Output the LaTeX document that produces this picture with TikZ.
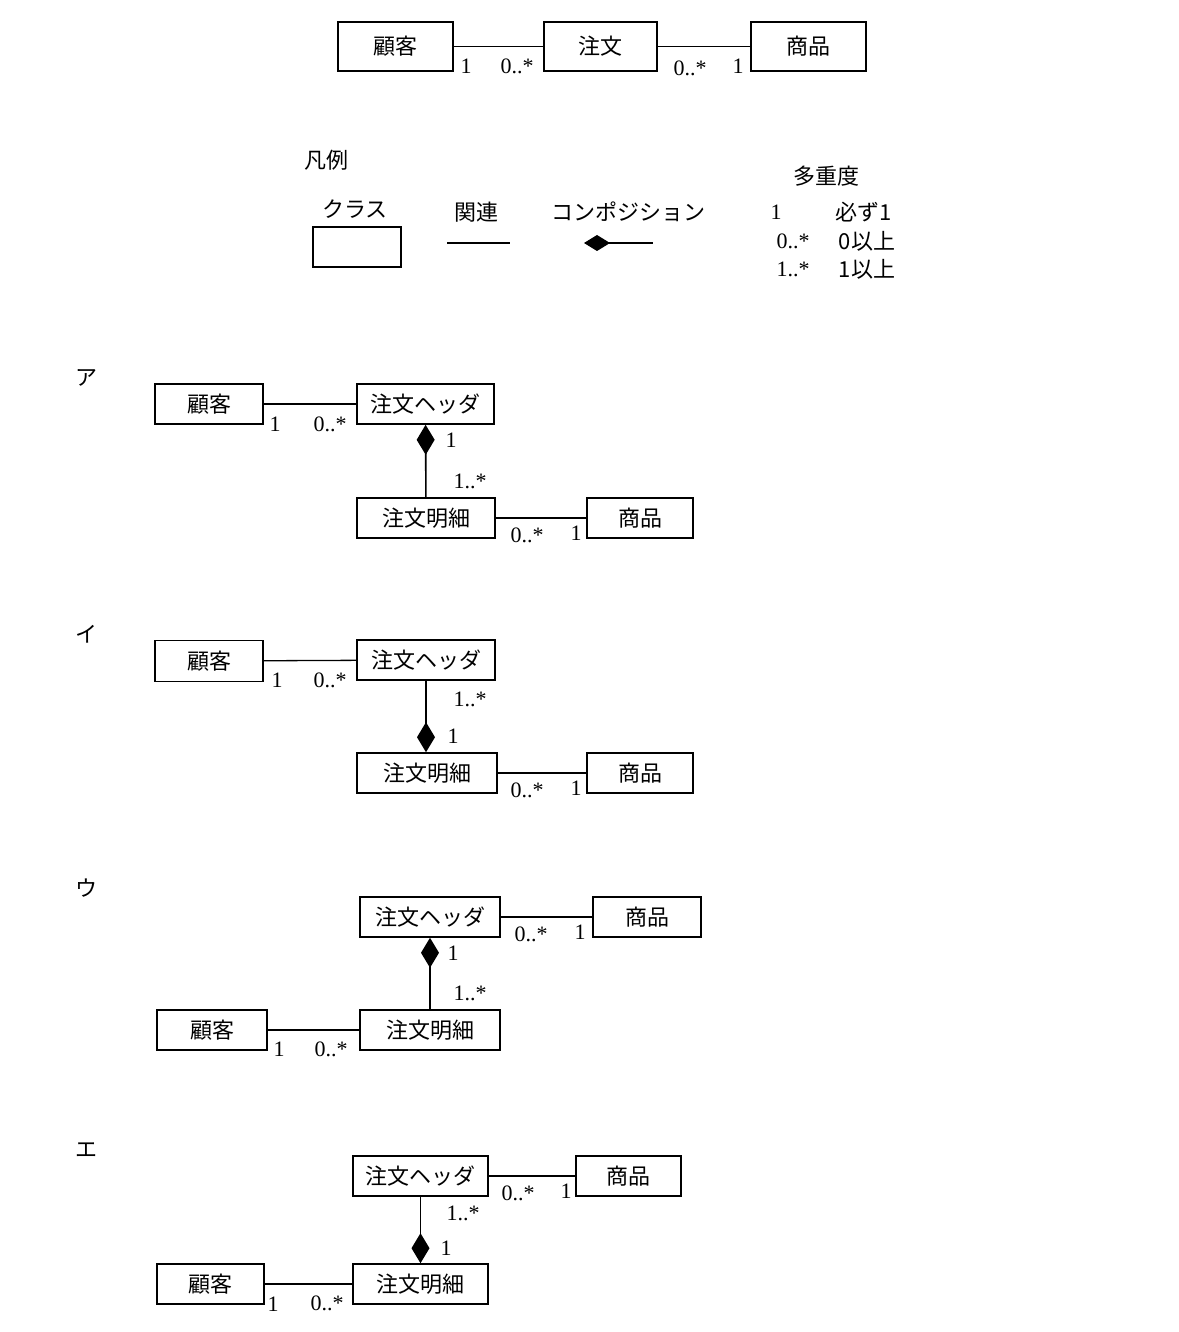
\documentclass[tikz,border=0pt]{standalone}
\usepackage{fontspec}
\setmainfont{Liberation Serif}
\newfontfamily\cjk{Noto Sans CJK JP}
\usetikzlibrary{arrows.meta}
\begin{document}
\begin{tikzpicture}[x=1pt,y=-1pt,
 cls/.style={draw,line width=1.6pt,inner sep=0pt,font=\cjk\fontsize{22}{22}\selectfont},
 lab/.style={font=\fontsize{22}{22}\selectfont,inner sep=0pt},
 jl/.style={font=\cjk\fontsize{22}{22}\selectfont,inner sep=0pt},
 asc/.style={line width=1.3pt},
 comp/.style={line width=1.6pt,{Diamond[length=30pt,width=18pt]}-}]
\useasboundingbox (0,0) rectangle (1178,1332);
% top
\node[cls,minimum width=115pt,minimum height=49pt] (k0) at (395.5,46.5) {顧客};
\node[cls,minimum width=113pt,minimum height=49pt] (c0) at (600.5,46.5) {注文};
\node[cls,minimum width=115pt,minimum height=49pt] (s0) at (808.5,46.5) {商品};
\draw[asc] (k0) -- (c0); \draw[asc] (c0) -- (s0);
\node[lab] (t1) at (466,66) {1}; \node[lab] (t2) at (517,66) {0..*};
\node[lab] (t3) at (690,68) {0..*}; \node[lab] (t4) at (738,66) {1};
% legend
\node[jl] (lg) at (326,160) {凡例};
\node[jl] (lc) at (355,209) {クラス};
\node[draw,line width=1.4pt,minimum width=88pt,minimum height=40pt] (lb) at (357,247) {};
\node[jl] (la) at (476,212) {関連};
\coordinate (a1) at (447,243); \coordinate (a2) at (510,243);
\draw[asc] (a1) -- (a2);
\node[jl] (lco) at (628,212) {コンポジション};
\coordinate (d1) at (584,243); \coordinate (d2) at (653,243);
\draw[line width=1.3pt,{Diamond[length=26pt,width=16pt]}-] (d1) -- (d2);
\node[jl] (lm) at (826,176) {多重度};
\node[lab] (m1) at (776,212) {1}; \node[jl] (m1b) at (864,212) {必ず1};
\node[lab] (m2) at (793,241) {0..*}; \node[jl] (m2b) at (867,241) {0以上};
\node[lab] (m3) at (793,269) {1..*}; \node[jl] (m3b) at (867,269) {1以上};
% A
\node[jl] (A) at (86,378) {ア};
\node[cls,minimum width=108pt,minimum height=40pt] (ka) at (209,404) {顧客};
\node[cls,minimum width=137pt,minimum height=40pt] (ha) at (425.5,404) {注文ヘッダ};
\node[cls,minimum width=138pt,minimum height=40pt] (ma) at (426,518) {注文明細};
\node[cls,minimum width=106pt,minimum height=40pt] (sa) at (640,518) {商品};
\draw[asc] (ka) -- (ha); \draw[asc] (ma) -- (sa);
\draw[comp] (ha) -- (ma);
\node[lab] (a3) at (275,424) {1}; \node[lab] (a4) at (330,424) {0..*};
\node[lab] (a5) at (451,440) {1}; \node[lab] (a6) at (470,481) {1..*};
\node[lab] (a7) at (527,535) {0..*}; \node[lab] (a8) at (576,533) {1};
% I
\node[jl] (I) at (86,634) {イ};
\node[cls,minimum width=108pt,minimum height=41pt] (ki) at (209,661) {顧客};
\node[cls,minimum width=138pt,minimum height=40pt] (hi) at (426,660) {注文ヘッダ};
\node[cls,minimum width=140pt,minimum height=40pt] (mi) at (427,773) {注文明細};
\node[cls,minimum width=106pt,minimum height=40pt] (si) at (640,773) {商品};
\draw[asc] (ki) -- (hi); \draw[asc] (mi) -- (si);
\draw[comp] (mi.north-|hi.south) -- (hi.south);
\node[lab] (i3) at (277,680) {1}; \node[lab] (i4) at (330,680) {0..*};
\node[lab] (i5) at (470,699) {1..*}; \node[lab] (i6) at (453,736) {1};
\node[lab] (i7) at (527,790) {0..*}; \node[lab] (i8) at (576,788) {1};
% U
\node[jl] (U) at (86,888) {ウ};
\node[cls,minimum width=140pt,minimum height=40pt] (hu) at (430,917) {注文ヘッダ};
\node[cls,minimum width=108pt,minimum height=40pt] (su) at (647,917) {商品};
\node[cls,minimum width=110pt,minimum height=40pt] (ku) at (212,1030) {顧客};
\node[cls,minimum width=140pt,minimum height=40pt] (mu) at (430,1030) {注文明細};
\draw[asc] (hu) -- (su); \draw[asc] (ku) -- (mu);
\draw[comp] (hu) -- (mu);
\node[lab] (u3) at (531,934) {0..*}; \node[lab] (u4) at (580,932) {1};
\node[lab] (u5) at (453,953) {1}; \node[lab] (u6) at (470,993) {1..*};
\node[lab] (u7) at (279,1049) {1}; \node[lab] (u8) at (331,1049) {0..*};
% E
\node[jl] (E) at (86,1150) {エ};
\node[cls,minimum width=135pt,minimum height=40pt] (he) at (420.5,1176) {注文ヘッダ};
\node[cls,minimum width=105pt,minimum height=40pt] (se) at (628.5,1176) {商品};
\node[cls,minimum width=107pt,minimum height=40pt] (ke) at (210.5,1284) {顧客};
\node[cls,minimum width=135pt,minimum height=40pt] (me) at (420.5,1284) {注文明細};
\draw[asc] (he) -- (se); \draw[asc] (ke) -- (me);
\draw[comp] (me) -- (he);
\node[lab] (e3) at (518,1193) {0..*}; \node[lab] (e4) at (566,1191) {1};
\node[lab] (e5) at (463,1213) {1..*}; \node[lab] (e6) at (446,1248) {1};
\node[lab] (e7) at (273,1304) {1}; \node[lab] (e8) at (327,1303) {0..*};
\end{tikzpicture}
\end{document}
